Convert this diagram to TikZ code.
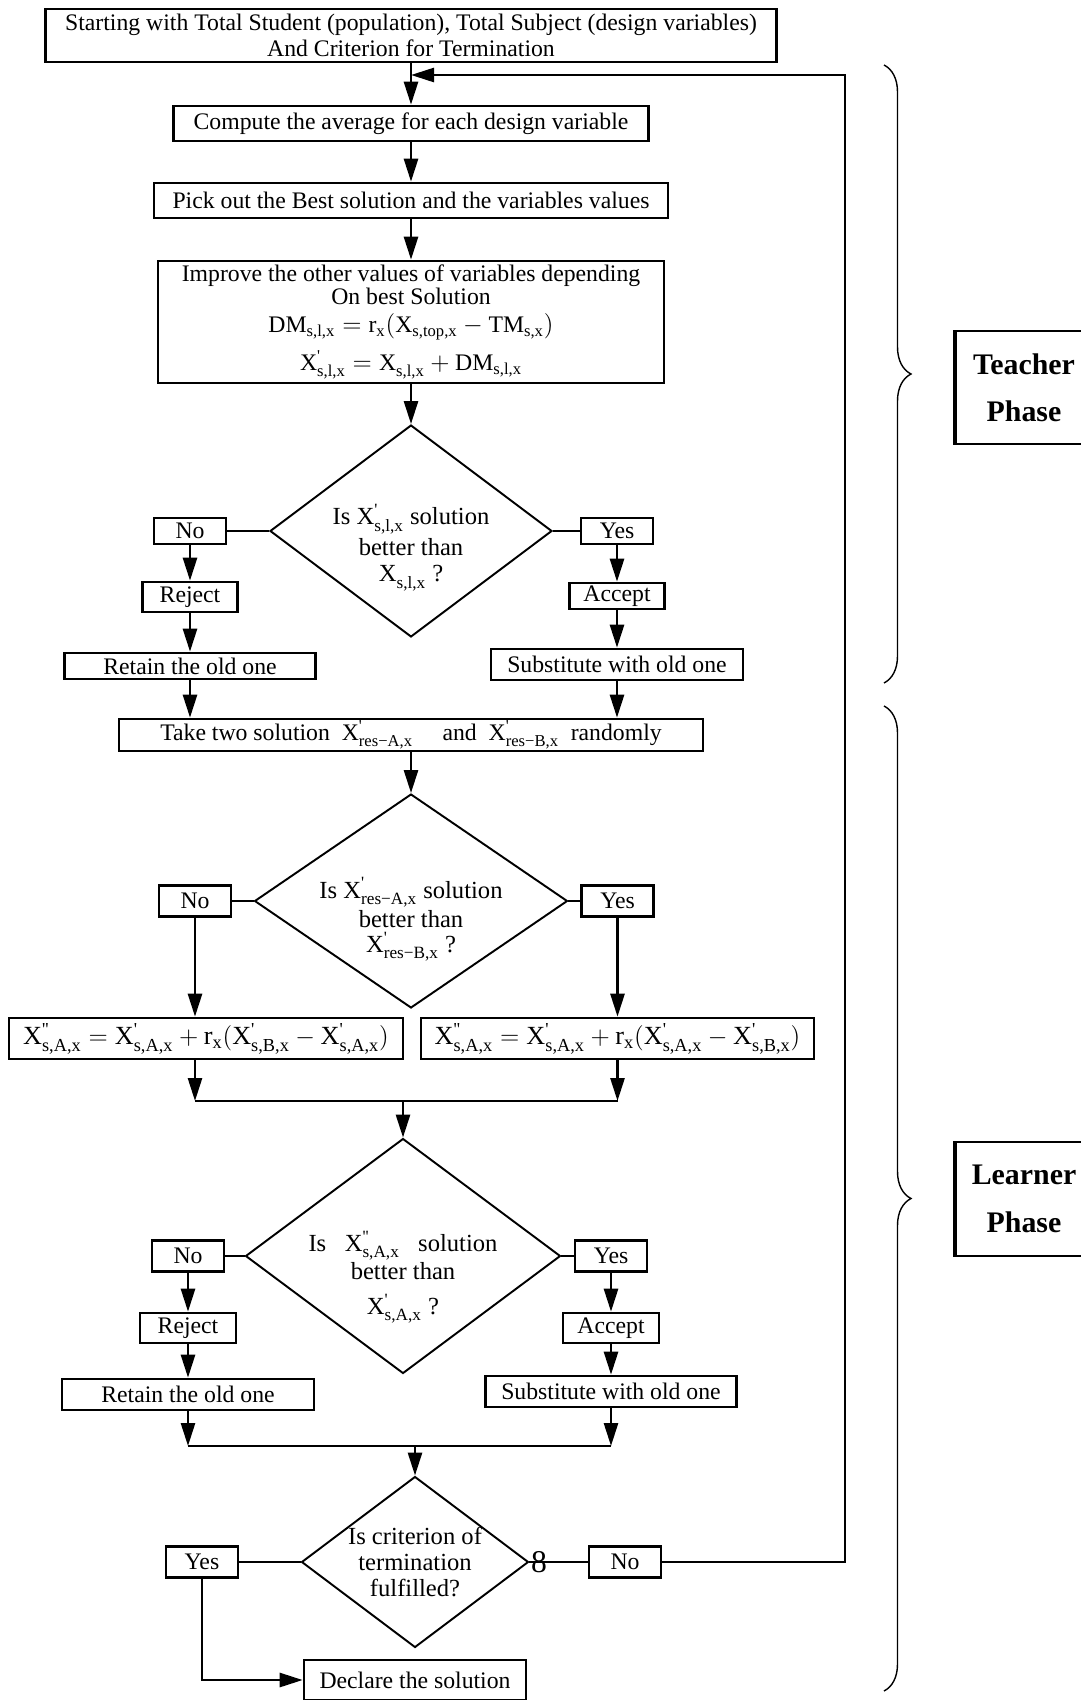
\documentclass[tikz,border=0pt]{standalone}
\usepackage{amsmath}
\usepackage{fontspec}
\setmainfont{Liberation Serif}
\usetikzlibrary{shapes.geometric, arrows.meta, positioning, calc, decorations.pathreplacing}

% X with a prime mark and a subscript, all in the text font
\newcommand{\xv}[2]{\mathrm{X}^{\text{#1}}_{\text{#2}}}
\newcommand{\pr}{\textquotesingle}
\newcommand{\ppr}{\textquotesingle\textquotesingle}

\tikzset{
  block/.style={draw, line width=1.5pt, inner sep=0pt, align=center, font=\fontsize{13.5}{15}\selectfont},
  tag/.style={block, minimum width=1.44cm},
  decision/.style={diamond, draw, line width=1.1pt, inner sep=0pt},
  dtext/.style={align=center, inner sep=0pt, font=\fontsize{14}{15}\selectfont},
  flow/.style={line width=1.5pt},
  arrow/.style={flow, -{Triangle[length=0.46cm, width=0.28cm]}},
  phase/.style={draw, line width=1pt, inner sep=0pt, align=center, font=\fontsize{17}{27}\selectfont\bfseries},
  phasebrace/.style={decorate, decoration={brace, amplitude=0.54cm}, line width=0.8pt}
}

\begin{document}
\begin{tikzpicture}[x=0.02cm, y=-0.02cm]
\useasboundingbox (0,0) rectangle (1081,1700);
\clip (0,0) rectangle (1081,1700);

% Teacher phase
\node[block, minimum width=14.62cm, minimum height=1.06cm] (start) at (411,35.5)
    {Starting with Total Student (population), Total Subject (design variables)\\And Criterion for Termination};
\node[block, minimum width=9.5cm, minimum height=0.7cm] (avg) at (411,123.5) {Compute the average for each design variable};
\node[block, minimum width=10.28cm, minimum height=0.7cm] (best) at (411,200.5) {Pick out the Best solution and the variables values};
\node[block, minimum width=10.12cm, minimum height=2.44cm, font=\fontsize{13.5}{13}\selectfont] (improve) at (411,322) {
    Improve the other values of variables depending\\On best Solution\\[3pt]
    $\mathrm{DM}_{\text{s,l,x}} = \mathrm{r}_{\text{x}}(\mathrm{X}_{\text{s,top,x}} - \mathrm{TM}_{\text{s,x}})$\\[5pt]
    $\xv{\pr}{s,l,x} = \xv{}{s,l,x} + \mathrm{DM}_{\text{s,l,x}}$};
\node[decision, minimum width=5.64cm, minimum height=4.24cm,
    label={[name=d1text, dtext, yshift=-9.5pt]center:{Is $\xv{\pr}{s,l,x}$ solution\\[1pt]better than\\$\xv{}{s,l,x}$ ?}}] (d1) at (411,531) {};
\node[tag, minimum height=0.52cm] (no1) at (190,531) {No};
\node[tag, minimum height=0.52cm] (yes1) at (617,531) {Yes};
\node[block, minimum width=1.9cm, minimum height=0.6cm] (rej1) at (190,597) {Reject};
\node[block, minimum width=1.9cm, minimum height=0.52cm] (acc1) at (617,596) {Accept};
\node[block, minimum width=5.02cm, minimum height=0.52cm] (ret1) at (190,666) {Retain the old one};
\node[block, minimum width=5.04cm, minimum height=0.62cm] (sub1) at (617,664.5) {Substitute with old one};

% Learner phase
\node[block, minimum width=11.68cm, minimum height=0.64cm] (take) at (411,735)
    {Take two solution \ $\xv{\pr}{res−A,x}$ \quad and \ $\xv{\pr}{res−B,x}$ \ randomly};
\node[decision, minimum width=6.26cm, minimum height=4.28cm,
    label={[name=d2text, dtext, yshift=-10.5pt]center:{Is $\xv{\pr}{res−A,x}$ solution\\[2pt]better than\\[-1pt]$\xv{\pr}{res−B,x}$ ?}}] (d2) at (411,901) {};
\node[tag, minimum height=0.62cm] (no2) at (195,901) {No};
\node[tag, minimum height=0.62cm] (yes2) at (617.5,901) {Yes};
\node[block, minimum width=7.88cm, minimum height=0.82cm, font=\fontsize{14.9}{15}\selectfont] (f1) at (206,1038.5)
    {$\xv{\ppr}{s,A,x} = \xv{\pr}{s,A,x} + \mathrm{r}_{\text{x}}(\xv{\pr}{s,B,x} - \xv{\pr}{s,A,x})$};
\node[block, minimum width=7.86cm, minimum height=0.82cm, font=\fontsize{14.9}{15}\selectfont] (f2) at (617.5,1038.5)
    {$\xv{\ppr}{s,A,x} = \xv{\pr}{s,A,x} + \mathrm{r}_{\text{x}}(\xv{\pr}{s,A,x} - \xv{\pr}{s,B,x})$};
\coordinate (m1) at (403,1101);
\node[decision, minimum width=6.3cm, minimum height=4.7cm,
    label={[name=d3text, dtext, yshift=-12pt]center:{Is \enspace $\xv{\ppr}{s,A,x}$ \enspace solution\\[1pt]better than\\[5pt]$\xv{\pr}{s,A,x}$ ?}}] (d3) at (403,1256) {};
\node[tag, minimum height=0.62cm] (no3) at (188,1256) {No};
\node[tag, minimum height=0.62cm] (yes3) at (611,1256) {Yes};
\node[block, minimum width=1.92cm, minimum height=0.6cm] (rej3) at (188,1328) {Reject};
\node[block, minimum width=1.92cm, minimum height=0.6cm] (acc3) at (611,1328) {Accept};
\node[block, minimum width=5.04cm, minimum height=0.62cm] (ret3) at (188,1394.5) {Retain the old one};
\node[block, minimum width=5.02cm, minimum height=0.62cm] (sub3) at (611,1391.5) {Substitute with old one};
\coordinate (m2) at (415,1446);
\node[decision, minimum width=4.54cm, minimum height=3.42cm,
    label={[name=d4text, dtext]center:{Is criterion of\\termination\\fulfilled?}}] (d4) at (415,1562) {};
\node[tag, minimum height=0.62cm] (yes4) at (202,1562) {Yes};
\node[tag, minimum height=0.62cm] (no4) at (625,1562) {No};
\node[font=\fontsize{18}{18}\selectfont, inner sep=0pt] (eight) at (539,1562) {8};
\node[block, minimum width=4.44cm, minimum height=0.8cm] (dec) at (415,1680) {Declare the solution};
\coordinate (back) at (845,75);
\coordinate (join) at (411,75);

% Connectors
\draw[arrow] (start) -- (avg);
\draw[arrow] (avg) -- (best);
\draw[arrow] (best) -- (improve);
\draw[arrow] (improve) -- (d1);
\draw[flow] (d1) -- (no1);
\draw[flow] (d1) -- (yes1);
\draw[arrow] (no1) -- (rej1);
\draw[arrow] (rej1) -- (ret1);
\draw[arrow] (ret1) -- (ret1 |- take.north);
\draw[arrow] (yes1) -- (acc1);
\draw[arrow] (acc1) -- (sub1);
\draw[arrow] (sub1) -- (sub1 |- take.north);
\draw[arrow] (take) -- (d2);
\draw[flow] (d2) -- (no2);
\draw[flow] (d2) -- (yes2);
\draw[arrow] (no2) -- (no2 |- f1.north);
\draw[arrow] (yes2) -- (f2);
\draw[arrow] (no2 |- f1.south) -- (no2 |- m1);
\draw[arrow] (f2) -- (f2 |- m1);
\draw[flow] (no2 |- m1) -- (f2 |- m1);
\draw[arrow] (m1) -- (d3);
\draw[flow] (d3) -- (no3);
\draw[flow] (d3) -- (yes3);
\draw[arrow] (no3) -- (rej3);
\draw[arrow] (rej3) -- (ret3);
\draw[arrow] (ret3) -- (ret3 |- m2);
\draw[arrow] (yes3) -- (acc3);
\draw[arrow] (acc3) -- (sub3);
\draw[arrow] (sub3) -- (sub3 |- m2);
\draw[flow] (ret3 |- m2) -- (sub3 |- m2);
\draw[arrow] (m2) -- (d4);
\draw[flow] (d4) -- (yes4);
\draw[flow] (d4) -- (no4);
\draw[arrow] (yes4) |- (dec);
\draw[arrow] (no4) -| (back) -- (join);

% Phase braces and labels
\draw[phasebrace] (884,65) -- (884,683);
\draw[phasebrace] (884,706) -- (884,1691);
\node[phase, minimum width=2.72cm, minimum height=2.26cm] (teacher) at (1024,387.5) {Teacher\\Phase};
\node[phase, minimum width=2.72cm, minimum height=2.28cm] (learner) at (1024,1199) {Learner\\Phase};
\draw[line width=2.5pt] (teacher.north west) -- (teacher.south west);
\draw[line width=2.5pt] (learner.north west) -- (learner.south west);
\end{tikzpicture}
\end{document}
